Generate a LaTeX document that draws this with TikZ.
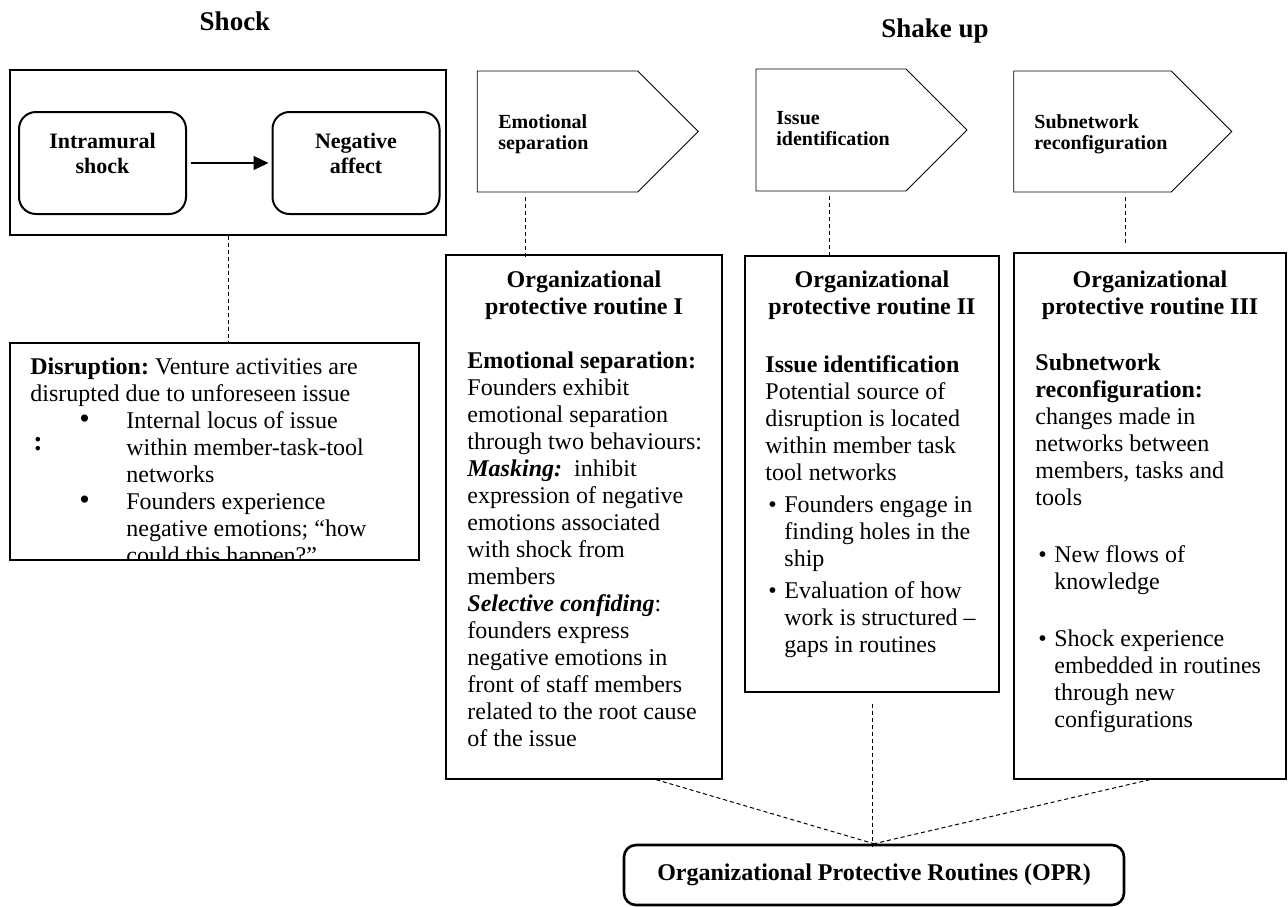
\documentclass[tikz,border=0pt]{standalone}
\usepackage{fontspec}
\setmainfont{Liberation Serif}
\usetikzlibrary{arrows.meta,positioning,shapes.symbols}
\definecolor{OprInk}{RGB}{0,0,0}
\frenchspacing
\newcommand{\oprfont}[2]{\fontsize{#1}{#2}\selectfont}
\newcommand{\firstline}[1]{\rule{0pt}{#1}}
\newcommand{\listdot}{\makebox[9.5pt][l]{\hspace{1.5pt}\textbullet}}
\newcommand{\listgap}{\hspace*{9.5pt}}
\newcommand{\widedot}{\makebox[48pt][l]{\hspace{24.5pt}{\oprfont{15}{13.5}\textbullet}}}
\newcommand{\widegap}{\hspace*{48pt}}
\tikzset{
  opr/frame/.style={
    draw=OprInk,
    line width=0.6pt,
    fill=white,
    inner sep=0pt
  },
  opr/affect/.style={
    draw=OprInk,
    line width=1pt,
    rounded corners=8.5pt,
    inner sep=0pt,
    minimum width=83.5pt,
    minimum height=51pt
  },
  opr/stage/.style={
    signal,
    signal to=east,
    signal pointer angle=90,
    draw=OprInk,
    line width=0.45pt,
    inner sep=0pt
  },
  opr/outcome/.style={
    draw=OprInk,
    line width=1.3pt,
    rounded corners=6pt,
    minimum width=250pt,
    minimum height=30pt,
    font=\oprfont{12}{13.5}\bfseries
  },
  opr/title/.style={font=\oprfont{13.5}{15}\bfseries, inner sep=0pt, anchor=base},
  opr/head/.style={font=\oprfont{12}{13.5}\bfseries, align=center, inner sep=0pt, anchor=north},
  opr/body/.style={font=\oprfont{12}{13.5}, align=left, inner sep=0pt, anchor=north west},
  opr/affecttext/.style={font=\oprfont{11}{12.5}\bfseries, align=center, inner sep=0pt, anchor=north},
  opr/stagetext/.style={font=\oprfont{10}{10.5}\bfseries, align=left, inner sep=0pt, anchor=north west},
  opr/arrow/.style={-{Triangle[length=7.5pt,width=7pt]}, line width=0.6pt, draw=OprInk},
  opr/dashline/.style={draw=OprInk, line width=0.5pt, dash pattern=on 2pt off 1.5pt}
}

\begin{document}
\begin{tikzpicture}[x=0.5pt,y=-0.5pt]
  \useasboundingbox (0,0) rectangle (1288,906);
  % phase titles
  \node[opr/title] (shocktitle) at (235,30) {Shock};
  \node[opr/title] (shaketitle) at (935,37) {Shake up};

  % shock phase
  \node[opr/frame,minimum width=218pt,minimum height=82.5pt] (shock) at (228,152.5) {};
  \node[opr/affect] (intra) at (102.5,163) {};
  \node[opr/affect] (neg) at (356,163) {};
  \node[opr/affecttext] (intratext) at (102.5,131) {\firstline{8.5pt}Intramural\\shock};
  \node[opr/affecttext] (negtext) at (356,131) {\firstline{8.5pt}Negative\\affect};
  \draw[opr/arrow,shorten <=2pt,shorten >=1.5pt] (intra) -- (neg);

  \node[opr/frame,minimum width=204.5pt,minimum height=108.5pt] (disr) at (214.5,451.5) {};
  \begin{scope}
    \clip (disr.south west) rectangle (disr.north east);
    \node[opr/body] (disrtext) at (30,356) {\firstline{9pt}\textbf{Disruption:} Venture activities are\\
      disrupted due to unforeseen issue\\
      \widedot Internal locus of issue\\
      \widegap within member-task-tool\\
      \widegap networks\\
      \widedot Founders experience\\
      \widegap negative emotions; “how\\
      \widegap could this happen?”};
  \end{scope}
  \node[font=\oprfont{14}{15}\bfseries,inner sep=0pt,anchor=base west] (colon) at (33,450) {:};
  \draw[opr/dashline] (shock.south) -- (shock.south |- disr.north);

  % shake up stages
  \node[opr/stage,minimum width=110.5pt,minimum height=60.5pt] (p1) at (557.5,131.5) {};
  \node[opr/stage,minimum width=105.5pt,minimum height=61pt] (p2) at (831,130) {};
  \node[opr/stage,minimum width=109pt,minimum height=60.5pt] (p3) at (1092.5,131.5) {};
  \node[opr/stagetext] (p1text) at (498,113) {\firstline{7.5pt}Emotional\\separation};
  \node[opr/stagetext] (p2text) at (776,109) {\firstline{7.5pt}Issue\\identification};
  \node[opr/stagetext] (p3text) at (1034,113) {\firstline{7.5pt}Subnetwork\\reconfiguration};

  % routines
  \node[opr/frame,minimum width=138pt,minimum height=262pt] (r1) at (584,517) {};
  \node[opr/frame,minimum width=127pt,minimum height=218pt] (r2) at (872,474) {};
  \node[opr/frame,minimum width=136pt,minimum height=263pt] (r3) at (1150,516) {};
  \node[opr/head] (r1head) at (584,269) {\firstline{9pt}Organizational\\protective routine I};
  \node[opr/head] (r2head) at (872,269) {\firstline{9pt}Organizational\\protective routine II};
  \node[opr/head] (r3head) at (1150,269) {\firstline{9pt}Organizational\\protective routine III};
  \node[opr/body] (r1body) at (467,350) {\firstline{9pt}\textbf{Emotional separation:}\\
    Founders exhibit\\
    emotional separation\\
    through two behaviours:\\
    \textbf{\textit{Masking:}}\ \ inhibit\\
    expression of negative\\
    emotions associated\\
    with shock from\\
    members\\
    \textbf{\textit{Selective confiding}}:\\
    founders express\\
    negative emotions in\\
    front of staff members\\
    related to the root cause\\
    of the issue};
  \node[opr/body] (r2body) at (765,354) {\firstline{9pt}\textbf{Issue identification}\\
    Potential source of\\
    disruption is located\\
    within member task\\
    tool networks\\[2.5pt]
    \listdot Founders engage in\\
    \listgap finding holes in the\\
    \listgap ship\\[2.5pt]
    \listdot Evaluation of how\\
    \listgap work is structured –\\
    \listgap gaps in routines};
  \node[opr/body] (r3body) at (1035,352) {\firstline{9pt}\textbf{Subnetwork}\\
    \textbf{reconfiguration:}\\
    changes made in\\
    networks between\\
    members, tasks and\\
    tools\\[15pt]
    \listdot New flows of\\
    \listgap knowledge\\[15pt]
    \listdot Shock experience\\
    \listgap embedded in routines\\
    \listgap through new\\
    \listgap configurations};
  \draw[opr/dashline,shorten <=2.5pt,shorten >=-2.5pt] ([xshift=-16.25pt]p1.south) -- ([xshift=-16.25pt]p1.south |- r1.north);
  \draw[opr/dashline,shorten <=2.5pt] ([xshift=-1pt]p2.south) -- ([xshift=-1pt]p2.south |- r2.north);
  \draw[opr/dashline,shorten <=2.5pt,shorten >=3pt] ([xshift=16.25pt]p3.south) -- ([xshift=16.25pt]p3.south |- r3.north);

  % outcome
  \node[opr/outcome] (opr) at (874,875) {Organizational Protective Routines (OPR)};
  \draw[opr/dashline] ([xshift=36pt]r1.south) -- (opr.north);
  \draw[opr/dashline,shorten <=5.5pt,shorten >=-1.5pt] (r2.south) -- (r2.south |- opr.north);
  \draw[opr/dashline] (r3.south) -- (opr.north);
\end{tikzpicture}
\end{document}
